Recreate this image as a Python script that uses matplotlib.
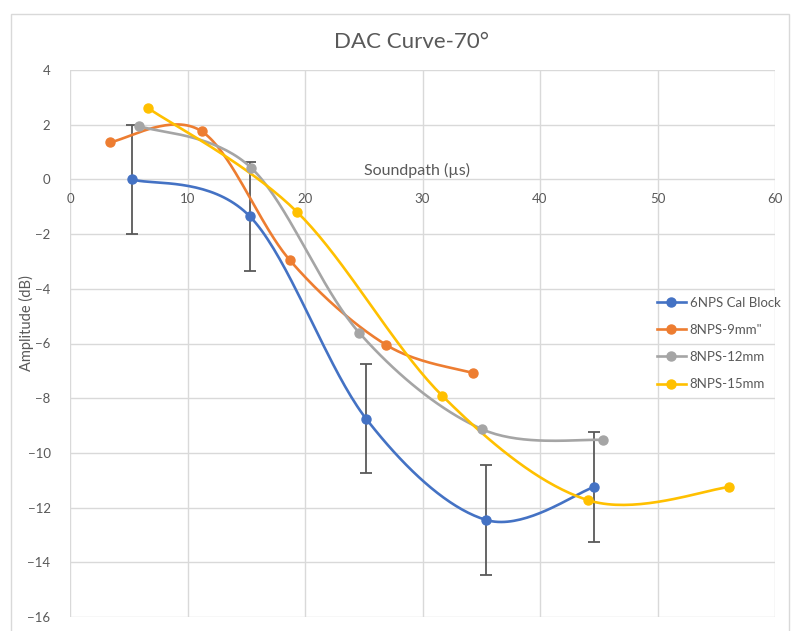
import numpy as np
import matplotlib.pyplot as plt
from matplotlib.patches import Rectangle

plt.rcParams['font.family'] = ['Lato', 'DejaVu Sans']

# data
blue_x = [5.3, 15.3, 25.2, 35.4, 44.6]
blue_y = [0.0, -1.35, -8.75, -12.45, -11.25]
blue_err = [2, 2, 2, 2, 2]

orange_x = [3.4, 11.2, 18.7, 26.9, 34.3]
orange_y = [1.36, 1.76, -2.95, -6.05, -7.08]

gray_x = [5.9, 15.4, 24.6, 35.1, 45.4]
gray_y = [1.95, 0.43, -5.6, -9.14, -9.53]

yellow_x = [6.6, 19.3, 31.7, 44.1, 56.1]
yellow_y = [2.62, -1.18, -7.92, -11.73, -11.25]

labels = ["6NPS Cal Block", "8NPS-9mm\"", "8NPS-12mm", "8NPS-15mm"]
colors = ["#4472C4", "#ED7D31", "#A5A5A5", "#FFC000"]


def smooth(xs, ys, n=40):
    # Excel-like smoothed line (Catmull-Rom through bezier segments)
    p = np.column_stack([xs, ys]).astype(float)
    pts = [p[0:1]]
    t = np.linspace(0, 1, n)[1:, None]
    for i in range(len(p) - 1):
        p0 = p[i - 1] if i > 0 else p[i]
        p1, p2 = p[i], p[i + 1]
        p3 = p[i + 2] if i + 2 < len(p) else p[i + 1]
        c1 = p1 + (p2 - p0) / 6
        c2 = p2 - (p3 - p1) / 6
        seg = ((1 - t) ** 3) * p1 + 3 * ((1 - t) ** 2) * t * c1 + 3 * (1 - t) * t ** 2 * c2 + t ** 3 * p2
        pts.append(seg)
    out = np.vstack(pts)
    return out[:, 0], out[:, 1]


fig = plt.figure(figsize=(7.92, 6.31), dpi=100)
# chart border (cut off at the bottom like the reference)
fig.patches.append(Rectangle((11 / 792, -0.01), 778 / 792, 1 - 14 / 631 + 0.01, transform=fig.transFigure,
                             fill=False, edgecolor="#D9D9D9", lw=1))
ax = fig.add_axes([70 / 792, 1 - 617 / 631, 705 / 792, 547 / 631])

series = [(blue_x, blue_y), (orange_x, orange_y), (gray_x, gray_y), (yellow_x, yellow_y)]
for (xs, ys), lab, c in zip(series, labels, colors):
    sx, sy = smooth(xs, ys)
    ax.plot(sx, sy, color=c, lw=1.9, zorder=3)
    ax.plot(xs, ys, 'o', color=c, ms=6.5, zorder=4)
    ax.plot([], [], '-o', color=c, lw=1.9, ms=6.5, label=lab)

ax.errorbar(blue_x, blue_y, yerr=blue_err, fmt='none', ecolor="#595959",
            elinewidth=1.3, capsize=4, capthick=1.3, zorder=2)

ax.set_xlim(0, 60)
ax.set_ylim(-16, 4)
ax.set_xticks(range(0, 61, 10))
ax.set_yticks(range(-16, 5, 2))
ax.grid(True, color="#D9D9D9", lw=1)
ax.set_axisbelow(True)
for s in ax.spines.values():
    s.set_visible(False)
ax.spines['bottom'].set_position(('data', 0))
ax.tick_params(axis='both', length=0, labelsize=9.5, labelcolor="#595959")
ax.tick_params(axis='x', pad=10)
ax.tick_params(axis='y', pad=14)

ax.text(29.5, 0.05, "Soundpath (µs)", ha='center', va='bottom', fontsize=11.5, color="#595959")
fig.text(26 / 792, 1 - 323 / 631, "Amplitude (dB)", rotation=90, ha='center', va='center',
         fontsize=10.5, color="#595959")
fig.text(412 / 792, 1 - 42 / 631, "DAC Curve-70°", ha='center', va='center',
         fontsize=16, color="#595959")

ax.legend(loc='upper left', bbox_to_anchor=(650 / 792, 1 - 290 / 631), bbox_transform=fig.transFigure,
          frameon=False, fontsize=9.5, labelcolor="#595959", handlelength=2.2,
          handletextpad=0.3, labelspacing=1.15, borderpad=0)

fig.savefig("out.png", dpi=100)
